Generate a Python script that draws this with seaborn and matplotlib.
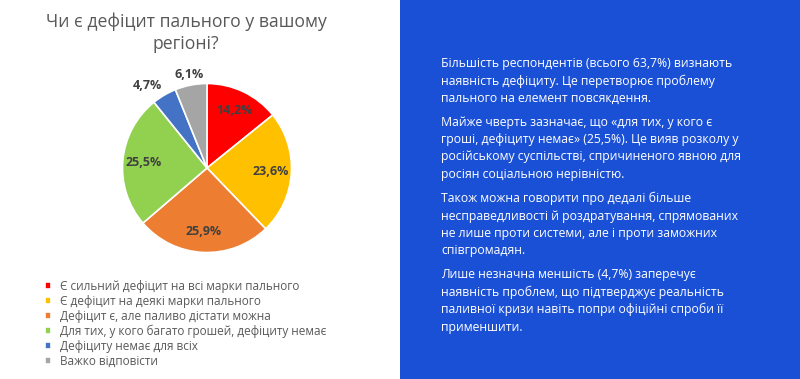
import numpy as np
import matplotlib
matplotlib.use("Agg")
import matplotlib.pyplot as plt
import seaborn as sns
from matplotlib.patches import Rectangle

# дані з опитування
categories = [
    "Є сильний дефіцит на всі марки пального",
    "Є дефіцит на деякі марки пального",
    "Дефіцит є, але паливо дістати можна",
    "Для тих, у кого багато грошей, дефіциту немає",
    "Дефіциту немає для всіх",
    "Важко відповісти",
]
shares = [14.2, 23.6, 25.9, 25.5, 4.7, 6.1]
colors = ["#FF0000", "#FFC000", "#ED7D31", "#92D050", "#4472C4", "#A5A5A5"]

title = "Чи є дефіцит пального у вашому\nрегіоні?"
paragraphs = [
    "Більшість респондентів (всього 63,7%) визнають\nнаявність дефіциту. Це перетворює проблему\nпального на елемент повсякдення.",
    "Майже чверть зазначає, що «для тих, у кого є\nгроші, дефіциту немає» (25,5%). Це вияв розколу у\nросійському суспільстві, спричиненого явною для\nросіян соціальною нерівністю.",
    "Також можна говорити про дедалі більше\nнесправедливості й роздратування, спрямованих\nне лише проти системи, але і проти заможних\nспівгромадян.",
    "Лише незначна меншість (4,7%) заперечує\nнаявність проблем, що підтверджує реальність\nпаливної кризи навіть попри офіційні спроби її\nприменшити.",
]

sns.set_theme(style="white")
plt.rcParams["font.family"] = ["Open Sans", "DejaVu Sans"]

W, H = 800, 379
fig = plt.figure(figsize=(W / 100, H / 100), dpi=100)
fig.patch.set_facecolor("white")

# синя панель праворуч
fig.patches.append(Rectangle((400 / W, 0), 400 / W, 1, transform=fig.transFigure,
                             facecolor="#1A50D6", edgecolor="none", zorder=0))

# кругова діаграма
cx, cy, r = 207, 168, 84.5
box = 100
ax = fig.add_axes([(cx - box) / W, (H - cy - box) / H, 2 * box / W, 2 * box / H])
wedges, texts, autotexts = ax.pie(
    shares, colors=colors, startangle=90, counterclock=False,
    autopct=lambda p: f"{p:.1f}%".replace(".", ","), pctdistance=0.75,
    wedgeprops=dict(edgecolor="white", linewidth=1.2),
    textprops=dict(fontsize=9, fontweight="bold", color="#404040"),
)
lim = box / r
ax.set_xlim(-lim, lim)
ax.set_ylim(-lim, lim)
ax.set_aspect("equal")
ax.axis("off")

# малі частки — підписи назовні
for w, t, d in zip(wedges[4:], autotexts[4:], [1.2, 1.13]):
    ang = np.deg2rad((w.theta1 + w.theta2) / 2)
    t.set_position((d * np.cos(ang), d * np.sin(ang)))
autotexts[4].set_position((-0.70, 0.98))

fig.text(186 / W, 1 - 33 / H, title, ha="center", va="center", fontsize=12.7,
         color="#595959", linespacing=1.32)

leg = fig.legend(wedges, categories, loc="upper left", bbox_to_anchor=(45 / W, 1 - 280 / H),
                 frameon=False, fontsize=8.5, handlelength=0.5, handleheight=0.5,
                 handletextpad=0.75, labelspacing=0.16, borderaxespad=0, borderpad=0)
for t in leg.get_texts():
    t.set_color("#595959")

y = 63
for p in paragraphs:
    n = p.count("\n") + 1
    fig.text(441 / W, 1 - (y - 6) / H, p, ha="left", va="top", fontsize=8.8,
             color="white", linespacing=1.42)
    y += n * 17 + 8

fig.savefig("out.png", dpi=100)
